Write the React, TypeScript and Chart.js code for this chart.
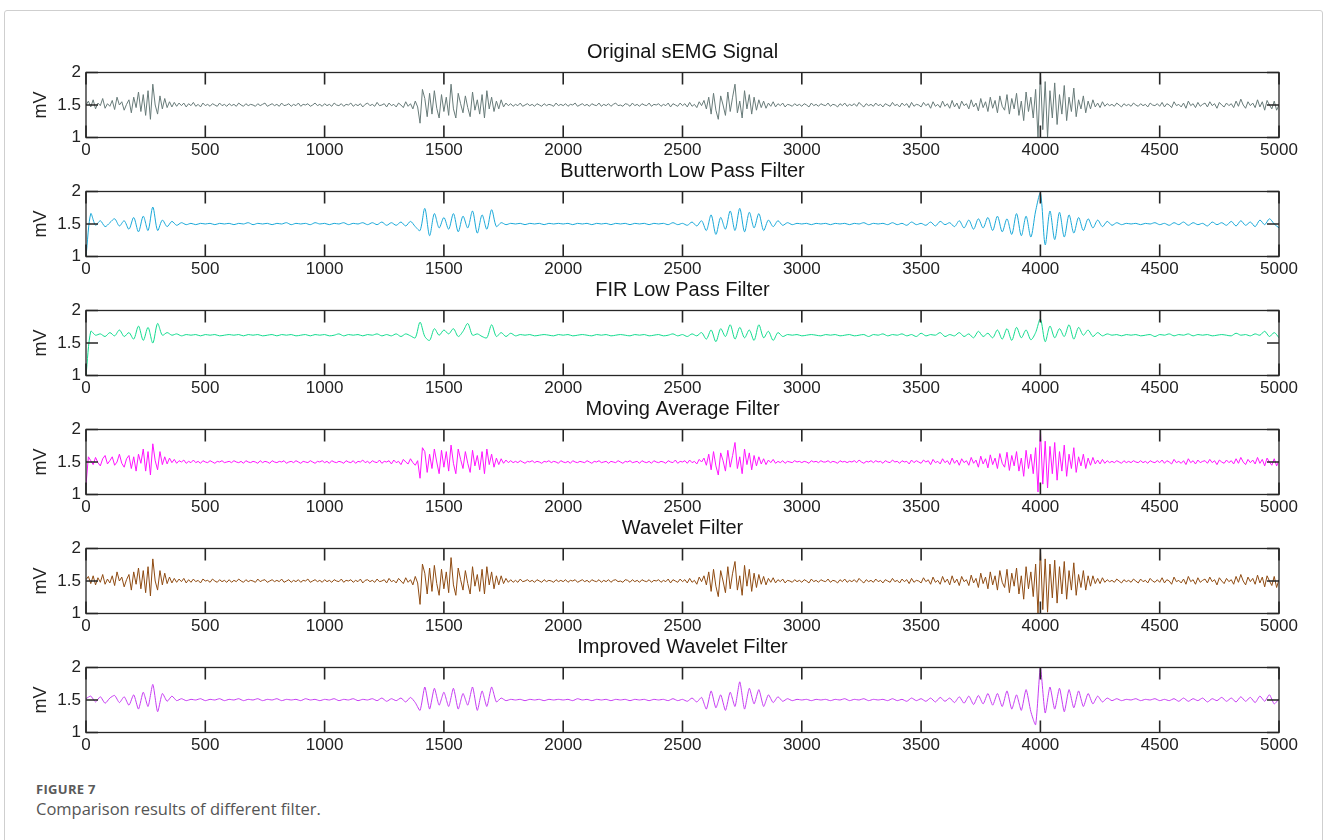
import React, { useEffect, useRef } from "react";
import { Chart, registerables } from "chart.js";

Chart.register(...registerables);

// ---------- data ----------
const X_MIN = 0;
const X_MAX = 5000;
const X_TICK_STEP = 500;
const Y_MIN = 1;
const Y_MAX = 2;
const Y_TICK_STEP = 0.5;
const Y_LABEL = "mV";

const PANEL_TITLES = [
  "Original sEMG Signal",
  "Butterworth Low Pass Filter",
  "FIR Low Pass Filter",
  "Moving Average Filter",
  "Wavelet Filter",
  "Improved Wavelet Filter",
];

// samples between stored values of each series (x = index * step)
const SERIES_SAMPLE_STEPS = [10, 20, 20, 10, 10, 20];

const LINE_COLORS = ["#687b79", "#1aa8d8", "#12db8e", "#ff14ff", "#8f4b12", "#c63cf2"];

// step 10
const ORIGINAL_SIGNAL = [
  1.50, 1.56, 1.47, 1.58, 1.44, 1.53, 1.49, 1.60, 1.45, 1.52,
  1.48, 1.57, 1.43, 1.62, 1.50, 1.55, 1.42, 1.51, 1.58, 1.38,
  1.62, 1.46, 1.70, 1.40, 1.66, 1.34, 1.72, 1.28, 1.82, 1.50,
  1.36, 1.64, 1.44, 1.60, 1.46, 1.55, 1.47, 1.54, 1.48, 1.53,
  1.49, 1.53, 1.47, 1.52, 1.49, 1.54, 1.48, 1.51, 1.47, 1.53,
  1.49, 1.51, 1.48, 1.52, 1.50, 1.48, 1.53, 1.49, 1.51, 1.48,
  1.52, 1.49, 1.51, 1.48, 1.53, 1.50, 1.48, 1.52, 1.49, 1.51,
  1.50, 1.48, 1.52, 1.49, 1.51, 1.53, 1.48, 1.50, 1.52, 1.49,
  1.51, 1.48, 1.53, 1.49, 1.50, 1.52, 1.48, 1.51, 1.49, 1.53,
  1.48, 1.51, 1.50, 1.52, 1.48, 1.50, 1.53, 1.49, 1.51, 1.48,
  1.52, 1.49, 1.51, 1.48, 1.53, 1.50, 1.49, 1.52, 1.48, 1.51,
  1.50, 1.53, 1.48, 1.51, 1.49, 1.52, 1.47, 1.51, 1.53, 1.49,
  1.51, 1.48, 1.54, 1.49, 1.50, 1.52, 1.47, 1.53, 1.49, 1.51,
  1.47, 1.53, 1.50, 1.46, 1.55, 1.48, 1.52, 1.44, 1.56, 1.47,
  1.22, 1.74, 1.60, 1.32, 1.68, 1.36, 1.72, 1.45, 1.30, 1.66,
  1.40, 1.62, 1.34, 1.82, 1.44, 1.30, 1.68, 1.52, 1.38, 1.64,
  1.46, 1.32, 1.70, 1.42, 1.58, 1.36, 1.66, 1.30, 1.72, 1.44,
  1.62, 1.40, 1.56, 1.44, 1.58, 1.47, 1.53, 1.49, 1.52, 1.48,
  1.51, 1.49, 1.53, 1.48, 1.50, 1.52, 1.49, 1.51, 1.48, 1.52,
  1.50, 1.48, 1.52, 1.49, 1.51, 1.50, 1.48, 1.53, 1.49, 1.51,
  1.49, 1.52, 1.48, 1.51, 1.50, 1.53, 1.48, 1.50, 1.52, 1.49,
  1.51, 1.48, 1.52, 1.50, 1.49, 1.53, 1.48, 1.51, 1.49, 1.52,
  1.48, 1.51, 1.53, 1.49, 1.50, 1.48, 1.52, 1.51, 1.48, 1.53,
  1.49, 1.51, 1.48, 1.52, 1.50, 1.49, 1.53, 1.48, 1.51, 1.50,
  1.52, 1.48, 1.51, 1.49, 1.53, 1.47, 1.52, 1.50, 1.48, 1.53,
  1.49, 1.52, 1.47, 1.54, 1.48, 1.51, 1.46, 1.55, 1.49, 1.57,
  1.44, 1.62, 1.36, 1.68, 1.42, 1.28, 1.64, 1.50, 1.34, 1.70,
  1.40, 1.62, 1.82, 1.38, 1.56, 1.30, 1.72, 1.44, 1.66, 1.36,
  1.62, 1.42, 1.58, 1.46, 1.56, 1.45, 1.53, 1.48, 1.55, 1.47,
  1.52, 1.49, 1.53, 1.47, 1.51, 1.50, 1.48, 1.52, 1.49, 1.51,
  1.48, 1.52, 1.50, 1.47, 1.53, 1.49, 1.51, 1.48, 1.52, 1.50,
  1.49, 1.53, 1.48, 1.51, 1.50, 1.47, 1.52, 1.49, 1.53, 1.48,
  1.51, 1.49, 1.52, 1.48, 1.54, 1.50, 1.47, 1.52, 1.49, 1.51,
  1.48, 1.53, 1.49, 1.51, 1.47, 1.52, 1.50, 1.48, 1.54, 1.49,
  1.51, 1.47, 1.53, 1.49, 1.52, 1.46, 1.54, 1.48, 1.51, 1.50,
  1.47, 1.54, 1.49, 1.52, 1.45, 1.55, 1.48, 1.51, 1.46, 1.56,
  1.48, 1.52, 1.45, 1.57, 1.47, 1.53, 1.44, 1.56, 1.49, 1.52,
  1.44, 1.58, 1.47, 1.53, 1.41, 1.60, 1.46, 1.55, 1.40, 1.62,
  1.45, 1.57, 1.38, 1.64, 1.48, 1.42, 1.66, 1.36, 1.60, 1.44,
  1.68, 1.34, 1.56, 1.26, 1.70, 1.40, 1.62, 1.30, 1.74, 1.00,
  2.00, 1.12, 1.86, 1.00, 1.72, 1.30, 1.84, 1.20, 1.66, 1.36,
  1.80, 1.26, 1.62, 1.40, 1.76, 1.32, 1.58, 1.44, 1.64, 1.38,
  1.56, 1.44, 1.58, 1.47, 1.53, 1.46, 1.55, 1.48, 1.52, 1.49,
  1.51, 1.48, 1.53, 1.50, 1.47, 1.52, 1.49, 1.51, 1.48, 1.53,
  1.50, 1.48, 1.52, 1.49, 1.51, 1.47, 1.53, 1.50, 1.49, 1.52,
  1.48, 1.54, 1.47, 1.52, 1.50, 1.46, 1.55, 1.49, 1.51, 1.47,
  1.53, 1.45, 1.56, 1.49, 1.52, 1.46, 1.54, 1.48, 1.51, 1.53,
  1.47, 1.55, 1.49, 1.52, 1.45, 1.54, 1.50, 1.47, 1.53, 1.49,
  1.52, 1.46, 1.56, 1.48, 1.59, 1.50, 1.45, 1.55, 1.49, 1.53,
  1.46, 1.58, 1.47, 1.55, 1.42, 1.57, 1.50, 1.44, 1.56, 1.42,
  1.50,
];

// step 20
const BUTTERWORTH_SIGNAL = [
  1.00, 1.66, 1.48, 1.55, 1.46, 1.52, 1.58, 1.47, 1.55, 1.42,
  1.60, 1.38, 1.62, 1.40, 1.76, 1.40, 1.56, 1.46, 1.54, 1.48,
  1.52, 1.49, 1.51, 1.49, 1.51, 1.50, 1.51, 1.49, 1.51, 1.50,
  1.51, 1.49, 1.51, 1.50, 1.52, 1.49, 1.51, 1.50, 1.51, 1.49,
  1.51, 1.50, 1.52, 1.49, 1.51, 1.50, 1.51, 1.49, 1.52, 1.50,
  1.51, 1.49, 1.51, 1.50, 1.52, 1.49, 1.51, 1.50, 1.52, 1.49,
  1.52, 1.49, 1.53, 1.48, 1.52, 1.48, 1.53, 1.47, 1.54, 1.46,
  1.40, 1.74, 1.32, 1.66, 1.44, 1.60, 1.42, 1.66, 1.38, 1.62,
  1.44, 1.70, 1.36, 1.64, 1.42, 1.72, 1.46, 1.52, 1.49, 1.51,
  1.50, 1.51, 1.49, 1.51, 1.50, 1.51, 1.49, 1.51, 1.50, 1.51,
  1.50, 1.51, 1.49, 1.51, 1.50, 1.51, 1.49, 1.51, 1.50, 1.51,
  1.49, 1.51, 1.50, 1.51, 1.49, 1.51, 1.50, 1.51, 1.49, 1.51,
  1.50, 1.51, 1.49, 1.52, 1.49, 1.51, 1.48, 1.53, 1.47, 1.55,
  1.40, 1.64, 1.34, 1.60, 1.42, 1.70, 1.40, 1.74, 1.38, 1.68,
  1.44, 1.66, 1.40, 1.56, 1.46, 1.55, 1.48, 1.52, 1.49, 1.51,
  1.50, 1.51, 1.49, 1.51, 1.50, 1.51, 1.49, 1.51, 1.50, 1.51,
  1.49, 1.51, 1.50, 1.52, 1.49, 1.51, 1.50, 1.51, 1.49, 1.52,
  1.49, 1.51, 1.48, 1.53, 1.49, 1.51, 1.48, 1.53, 1.47, 1.54,
  1.49, 1.52, 1.46, 1.55, 1.44, 1.56, 1.42, 1.58, 1.44, 1.60,
  1.40, 1.62, 1.38, 1.58, 1.34, 1.66, 1.32, 1.62, 1.30, 1.70,
  1.98, 1.18, 1.70, 1.26, 1.68, 1.30, 1.64, 1.36, 1.60, 1.40,
  1.58, 1.44, 1.56, 1.46, 1.54, 1.48, 1.52, 1.49, 1.51, 1.50,
  1.51, 1.49, 1.51, 1.50, 1.52, 1.49, 1.51, 1.48, 1.52, 1.49,
  1.53, 1.48, 1.52, 1.49, 1.51, 1.47, 1.53, 1.49, 1.52, 1.48,
  1.54, 1.47, 1.55, 1.48, 1.53, 1.46, 1.56, 1.49, 1.58, 1.50, 1.44,
];

// step 20
const FIR_SIGNAL = [
  1.00, 1.68, 1.62, 1.64, 1.60, 1.66, 1.61, 1.70, 1.60, 1.66,
  1.56, 1.76, 1.54, 1.74, 1.50, 1.80, 1.62, 1.66, 1.62, 1.64,
  1.61, 1.63, 1.62, 1.63, 1.61, 1.63, 1.62, 1.63, 1.61, 1.62,
  1.63, 1.62, 1.63, 1.61, 1.63, 1.62, 1.63, 1.61, 1.62, 1.63,
  1.61, 1.63, 1.62, 1.63, 1.61, 1.62, 1.63, 1.61, 1.63, 1.62,
  1.63, 1.61, 1.62, 1.64, 1.61, 1.63, 1.62, 1.63, 1.61, 1.63,
  1.62, 1.64, 1.61, 1.63, 1.61, 1.64, 1.60, 1.64, 1.61, 1.58,
  1.82, 1.60, 1.54, 1.72, 1.62, 1.70, 1.64, 1.72, 1.60, 1.68,
  1.80, 1.62, 1.64, 1.60, 1.58, 1.78, 1.60, 1.66, 1.60, 1.65,
  1.61, 1.63, 1.62, 1.63, 1.61, 1.62, 1.63, 1.62, 1.61, 1.63,
  1.62, 1.63, 1.61, 1.62, 1.63, 1.62, 1.61, 1.63, 1.62, 1.63,
  1.61, 1.62, 1.63, 1.62, 1.61, 1.63, 1.62, 1.63, 1.61, 1.62,
  1.63, 1.61, 1.62, 1.64, 1.61, 1.63, 1.60, 1.64, 1.61, 1.66,
  1.56, 1.70, 1.52, 1.72, 1.60, 1.78, 1.56, 1.74, 1.58, 1.70,
  1.54, 1.78, 1.58, 1.68, 1.54, 1.66, 1.60, 1.63, 1.62, 1.63,
  1.61, 1.62, 1.63, 1.62, 1.61, 1.63, 1.62, 1.63, 1.61, 1.62,
  1.63, 1.61, 1.62, 1.63, 1.60, 1.63, 1.62, 1.64, 1.61, 1.63,
  1.62, 1.64, 1.61, 1.63, 1.60, 1.65, 1.61, 1.63, 1.62, 1.66,
  1.60, 1.63, 1.61, 1.66, 1.60, 1.64, 1.58, 1.68, 1.60, 1.65,
  1.58, 1.70, 1.56, 1.72, 1.54, 1.74, 1.58, 1.70, 1.55, 1.66,
  1.87, 1.52, 1.76, 1.58, 1.72, 1.60, 1.78, 1.56, 1.74, 1.62,
  1.70, 1.60, 1.66, 1.61, 1.64, 1.62, 1.63, 1.61, 1.63, 1.62,
  1.63, 1.61, 1.62, 1.63, 1.60, 1.63, 1.62, 1.64, 1.61, 1.63,
  1.62, 1.64, 1.61, 1.63, 1.62, 1.63, 1.61, 1.62, 1.63, 1.62,
  1.61, 1.65, 1.62, 1.63, 1.61, 1.64, 1.62, 1.68, 1.60, 1.66, 1.58,
];

// step 10
const MOVING_AVERAGE_SIGNAL = [
  1.15, 1.58, 1.52, 1.46, 1.57, 1.49, 1.44, 1.55, 1.60, 1.47,
  1.52, 1.58, 1.45, 1.50, 1.62, 1.48, 1.42, 1.55, 1.60, 1.40,
  1.58, 1.36, 1.62, 1.48, 1.70, 1.36, 1.66, 1.30, 1.78, 1.52,
  1.38, 1.66, 1.46, 1.58, 1.47, 1.56, 1.49, 1.54, 1.48, 1.52,
  1.50, 1.53, 1.48, 1.51, 1.49, 1.53, 1.49, 1.51, 1.48, 1.52,
  1.50, 1.49, 1.52, 1.50, 1.48, 1.51, 1.50, 1.52, 1.49, 1.50,
  1.51, 1.49, 1.52, 1.50, 1.49, 1.51, 1.48, 1.52, 1.50, 1.49,
  1.51, 1.50, 1.48, 1.52, 1.49, 1.51, 1.50, 1.48, 1.52, 1.50,
  1.49, 1.51, 1.50, 1.52, 1.48, 1.50, 1.51, 1.49, 1.52, 1.50,
  1.48, 1.51, 1.50, 1.49, 1.52, 1.50, 1.48, 1.51, 1.50, 1.52,
  1.49, 1.51, 1.48, 1.52, 1.50, 1.49, 1.51, 1.50, 1.48, 1.52,
  1.50, 1.49, 1.52, 1.48, 1.51, 1.50, 1.53, 1.49, 1.51, 1.48,
  1.52, 1.50, 1.49, 1.53, 1.48, 1.51, 1.50, 1.52, 1.47, 1.53,
  1.49, 1.51, 1.46, 1.54, 1.50, 1.47, 1.55, 1.49, 1.45, 1.52,
  1.25, 1.72, 1.66, 1.34, 1.62, 1.40, 1.70, 1.50, 1.32, 1.68,
  1.42, 1.66, 1.36, 1.76, 1.48, 1.32, 1.70, 1.54, 1.40, 1.66,
  1.48, 1.34, 1.68, 1.44, 1.60, 1.38, 1.66, 1.32, 1.70, 1.46,
  1.62, 1.42, 1.56, 1.46, 1.55, 1.48, 1.53, 1.49, 1.52, 1.49,
  1.51, 1.49, 1.52, 1.50, 1.48, 1.51, 1.50, 1.52, 1.49, 1.51,
  1.50, 1.48, 1.51, 1.50, 1.52, 1.49, 1.51, 1.50, 1.48, 1.52,
  1.50, 1.49, 1.51, 1.48, 1.52, 1.50, 1.49, 1.51, 1.50, 1.49,
  1.52, 1.50, 1.48, 1.51, 1.50, 1.52, 1.49, 1.50, 1.51, 1.48,
  1.51, 1.50, 1.49, 1.52, 1.50, 1.48, 1.51, 1.50, 1.52, 1.49,
  1.50, 1.51, 1.48, 1.52, 1.50, 1.49, 1.51, 1.48, 1.52, 1.50,
  1.49, 1.51, 1.50, 1.48, 1.52, 1.50, 1.49, 1.53, 1.48, 1.51,
  1.50, 1.52, 1.48, 1.53, 1.49, 1.51, 1.47, 1.54, 1.50, 1.56,
  1.45, 1.62, 1.38, 1.66, 1.44, 1.30, 1.64, 1.52, 1.36, 1.68,
  1.42, 1.60, 1.80, 1.40, 1.58, 1.32, 1.70, 1.46, 1.64, 1.38,
  1.60, 1.44, 1.58, 1.47, 1.55, 1.46, 1.53, 1.49, 1.54, 1.48,
  1.51, 1.49, 1.52, 1.48, 1.51, 1.50, 1.49, 1.52, 1.50, 1.51,
  1.49, 1.51, 1.50, 1.48, 1.52, 1.50, 1.51, 1.49, 1.52, 1.50,
  1.50, 1.52, 1.49, 1.51, 1.50, 1.48, 1.52, 1.50, 1.51, 1.49,
  1.51, 1.50, 1.52, 1.49, 1.53, 1.50, 1.48, 1.51, 1.50, 1.52,
  1.49, 1.52, 1.50, 1.51, 1.48, 1.52, 1.50, 1.49, 1.53, 1.50,
  1.51, 1.48, 1.52, 1.50, 1.51, 1.47, 1.53, 1.49, 1.52, 1.50,
  1.48, 1.53, 1.50, 1.52, 1.46, 1.54, 1.49, 1.51, 1.47, 1.55,
  1.49, 1.52, 1.46, 1.56, 1.48, 1.53, 1.45, 1.55, 1.49, 1.52,
  1.45, 1.57, 1.48, 1.53, 1.42, 1.59, 1.47, 1.55, 1.41, 1.61,
  1.46, 1.56, 1.40, 1.63, 1.48, 1.42, 1.65, 1.37, 1.60, 1.44,
  1.66, 1.36, 1.56, 1.28, 1.68, 1.40, 1.62, 1.32, 1.72, 1.04,
  2.00, 1.16, 1.82, 1.10, 1.74, 1.32, 1.80, 1.22, 1.66, 1.36,
  1.76, 1.28, 1.62, 1.40, 1.72, 1.34, 1.58, 1.44, 1.62, 1.40,
  1.56, 1.45, 1.57, 1.47, 1.53, 1.47, 1.54, 1.48, 1.52, 1.49,
  1.51, 1.49, 1.52, 1.50, 1.48, 1.52, 1.49, 1.51, 1.49, 1.52,
  1.50, 1.49, 1.52, 1.49, 1.51, 1.48, 1.52, 1.50, 1.49, 1.52,
  1.49, 1.53, 1.48, 1.52, 1.50, 1.47, 1.54, 1.49, 1.51, 1.48,
  1.52, 1.46, 1.55, 1.49, 1.52, 1.47, 1.53, 1.49, 1.51, 1.52,
  1.48, 1.54, 1.49, 1.52, 1.46, 1.53, 1.50, 1.48, 1.53, 1.49,
  1.52, 1.47, 1.55, 1.48, 1.57, 1.50, 1.46, 1.54, 1.49, 1.53,
  1.47, 1.57, 1.48, 1.54, 1.44, 1.56, 1.50, 1.45, 1.55, 1.44,
  1.52,
];

// step 10
const WAVELET_SIGNAL = [
  1.52, 1.57, 1.46, 1.58, 1.44, 1.55, 1.48, 1.60, 1.45, 1.53,
  1.47, 1.58, 1.43, 1.64, 1.50, 1.56, 1.41, 1.52, 1.60, 1.36,
  1.64, 1.45, 1.70, 1.38, 1.66, 1.32, 1.72, 1.27, 1.84, 1.50,
  1.36, 1.66, 1.44, 1.62, 1.46, 1.56, 1.47, 1.54, 1.48, 1.53,
  1.49, 1.54, 1.47, 1.52, 1.48, 1.53, 1.49, 1.51, 1.47, 1.53,
  1.50, 1.51, 1.48, 1.53, 1.50, 1.48, 1.52, 1.49, 1.51, 1.48,
  1.52, 1.48, 1.51, 1.49, 1.53, 1.50, 1.48, 1.52, 1.49, 1.51,
  1.50, 1.48, 1.53, 1.49, 1.51, 1.52, 1.48, 1.50, 1.52, 1.49,
  1.51, 1.49, 1.53, 1.48, 1.50, 1.52, 1.48, 1.51, 1.49, 1.52,
  1.48, 1.51, 1.50, 1.53, 1.48, 1.50, 1.52, 1.49, 1.51, 1.48,
  1.52, 1.49, 1.51, 1.48, 1.52, 1.50, 1.49, 1.53, 1.48, 1.51,
  1.50, 1.52, 1.48, 1.51, 1.49, 1.53, 1.47, 1.51, 1.52, 1.49,
  1.51, 1.48, 1.53, 1.49, 1.50, 1.52, 1.47, 1.54, 1.49, 1.51,
  1.47, 1.54, 1.50, 1.46, 1.55, 1.48, 1.52, 1.44, 1.57, 1.47,
  1.14, 1.76, 1.62, 1.30, 1.70, 1.34, 1.74, 1.46, 1.28, 1.68,
  1.38, 1.64, 1.32, 1.86, 1.44, 1.28, 1.70, 1.52, 1.36, 1.66,
  1.46, 1.30, 1.72, 1.42, 1.60, 1.34, 1.68, 1.30, 1.72, 1.44,
  1.64, 1.38, 1.58, 1.44, 1.58, 1.46, 1.54, 1.48, 1.52, 1.48,
  1.51, 1.48, 1.53, 1.49, 1.50, 1.52, 1.49, 1.51, 1.48, 1.52,
  1.50, 1.48, 1.52, 1.49, 1.51, 1.50, 1.48, 1.52, 1.49, 1.51,
  1.49, 1.52, 1.48, 1.51, 1.50, 1.52, 1.48, 1.50, 1.52, 1.49,
  1.51, 1.48, 1.52, 1.50, 1.49, 1.52, 1.48, 1.51, 1.49, 1.52,
  1.48, 1.51, 1.52, 1.49, 1.50, 1.48, 1.52, 1.51, 1.48, 1.52,
  1.49, 1.51, 1.48, 1.52, 1.50, 1.49, 1.52, 1.48, 1.51, 1.50,
  1.52, 1.48, 1.51, 1.49, 1.53, 1.47, 1.52, 1.50, 1.48, 1.53,
  1.49, 1.52, 1.47, 1.54, 1.48, 1.51, 1.45, 1.56, 1.49, 1.58,
  1.44, 1.64, 1.34, 1.68, 1.42, 1.26, 1.66, 1.50, 1.32, 1.72,
  1.38, 1.62, 1.80, 1.36, 1.58, 1.28, 1.74, 1.42, 1.68, 1.34,
  1.62, 1.40, 1.60, 1.45, 1.57, 1.44, 1.54, 1.48, 1.55, 1.47,
  1.52, 1.49, 1.53, 1.47, 1.51, 1.50, 1.48, 1.52, 1.49, 1.51,
  1.48, 1.52, 1.50, 1.47, 1.53, 1.49, 1.51, 1.48, 1.52, 1.50,
  1.49, 1.53, 1.48, 1.51, 1.50, 1.47, 1.52, 1.49, 1.53, 1.48,
  1.51, 1.49, 1.52, 1.48, 1.54, 1.50, 1.47, 1.52, 1.49, 1.51,
  1.48, 1.53, 1.49, 1.51, 1.47, 1.52, 1.50, 1.48, 1.54, 1.49,
  1.51, 1.47, 1.53, 1.49, 1.52, 1.46, 1.54, 1.48, 1.51, 1.50,
  1.47, 1.55, 1.49, 1.52, 1.45, 1.56, 1.48, 1.51, 1.45, 1.57,
  1.48, 1.53, 1.44, 1.58, 1.47, 1.53, 1.43, 1.57, 1.49, 1.52,
  1.43, 1.59, 1.47, 1.54, 1.40, 1.62, 1.46, 1.56, 1.38, 1.64,
  1.44, 1.58, 1.36, 1.66, 1.48, 1.40, 1.68, 1.32, 1.62, 1.42,
  1.70, 1.30, 1.58, 1.22, 1.72, 1.38, 1.64, 1.26, 1.76, 1.00,
  2.00, 1.06, 1.84, 1.02, 1.76, 1.24, 1.82, 1.16, 1.72, 1.30,
  1.80, 1.22, 1.66, 1.36, 1.78, 1.28, 1.60, 1.40, 1.66, 1.36,
  1.58, 1.42, 1.58, 1.46, 1.54, 1.46, 1.55, 1.48, 1.52, 1.49,
  1.51, 1.48, 1.53, 1.50, 1.47, 1.52, 1.49, 1.51, 1.48, 1.53,
  1.50, 1.47, 1.53, 1.49, 1.51, 1.47, 1.54, 1.50, 1.48, 1.52,
  1.48, 1.55, 1.47, 1.52, 1.50, 1.45, 1.56, 1.49, 1.51, 1.47,
  1.53, 1.45, 1.57, 1.49, 1.52, 1.45, 1.55, 1.48, 1.51, 1.53,
  1.47, 1.56, 1.49, 1.52, 1.44, 1.55, 1.50, 1.46, 1.54, 1.49,
  1.52, 1.45, 1.57, 1.48, 1.60, 1.50, 1.44, 1.56, 1.49, 1.54,
  1.45, 1.59, 1.47, 1.56, 1.41, 1.58, 1.50, 1.43, 1.57, 1.40,
  1.52,
];

// step 20
const IMPROVED_WAVELET_SIGNAL = [
  1.52, 1.56, 1.47, 1.55, 1.45, 1.53, 1.57, 1.46, 1.55, 1.42,
  1.58, 1.36, 1.62, 1.40, 1.74, 1.32, 1.60, 1.48, 1.56, 1.49,
  1.52, 1.49, 1.51, 1.50, 1.52, 1.49, 1.51, 1.50, 1.52, 1.49,
  1.51, 1.50, 1.52, 1.49, 1.51, 1.50, 1.52, 1.49, 1.51, 1.50,
  1.52, 1.49, 1.51, 1.50, 1.51, 1.49, 1.52, 1.50, 1.51, 1.49,
  1.51, 1.50, 1.52, 1.49, 1.51, 1.50, 1.52, 1.49, 1.51, 1.50,
  1.52, 1.49, 1.53, 1.48, 1.52, 1.49, 1.53, 1.47, 1.54, 1.46,
  1.34, 1.70, 1.36, 1.68, 1.42, 1.62, 1.40, 1.68, 1.36, 1.60,
  1.42, 1.70, 1.34, 1.64, 1.40, 1.70, 1.47, 1.53, 1.49, 1.51,
  1.50, 1.51, 1.49, 1.51, 1.50, 1.51, 1.49, 1.51, 1.50, 1.51,
  1.50, 1.51, 1.49, 1.52, 1.50, 1.51, 1.49, 1.51, 1.50, 1.51,
  1.49, 1.51, 1.50, 1.51, 1.49, 1.51, 1.50, 1.51, 1.49, 1.51,
  1.50, 1.51, 1.49, 1.52, 1.49, 1.51, 1.48, 1.53, 1.47, 1.54,
  1.36, 1.64, 1.38, 1.58, 1.34, 1.62, 1.40, 1.78, 1.36, 1.68,
  1.44, 1.66, 1.40, 1.58, 1.46, 1.55, 1.48, 1.52, 1.49, 1.51,
  1.50, 1.51, 1.49, 1.51, 1.50, 1.51, 1.49, 1.51, 1.50, 1.52,
  1.49, 1.51, 1.50, 1.52, 1.49, 1.51, 1.50, 1.51, 1.49, 1.52,
  1.49, 1.51, 1.48, 1.53, 1.49, 1.52, 1.48, 1.53, 1.47, 1.54,
  1.48, 1.53, 1.46, 1.55, 1.45, 1.56, 1.43, 1.57, 1.44, 1.60,
  1.42, 1.60, 1.40, 1.64, 1.36, 1.58, 1.34, 1.66, 1.32, 1.12,
  2.00, 1.30, 1.70, 1.36, 1.68, 1.32, 1.66, 1.38, 1.64, 1.40,
  1.60, 1.44, 1.56, 1.47, 1.53, 1.49, 1.52, 1.49, 1.51, 1.50,
  1.52, 1.49, 1.51, 1.50, 1.52, 1.49, 1.51, 1.49, 1.52, 1.48,
  1.53, 1.48, 1.52, 1.49, 1.53, 1.47, 1.52, 1.49, 1.54, 1.48,
  1.53, 1.47, 1.55, 1.48, 1.54, 1.46, 1.56, 1.48, 1.58, 1.44, 1.52,
];

const PANEL_SERIES = [
  ORIGINAL_SIGNAL,
  BUTTERWORTH_SIGNAL,
  FIR_SIGNAL,
  MOVING_AVERAGE_SIGNAL,
  WAVELET_SIGNAL,
  IMPROVED_WAVELET_SIGNAL,
];

// smoother drawing for the smoothly filtered series
const SERIES_TENSION = [0, 0.3, 0.3, 0, 0, 0.2];

// ---------- layout ----------
const PAGE_W = 1328;
const PAGE_H = 840;
const CANVAS_H = 122;
const FIRST_CANVAS_TOP = 40;
const PANEL_PITCH = 118.9;
const PLOT_LEFT = 86;
const PLOT_RIGHT = 1279;
const TICK_LEN = 12;
const AXIS_FONT = "'Liberation Sans', Arial, Helvetica, sans-serif";

const frameAndTicks = {
  id: "frameAndTicks",
  afterDatasetsDraw(chart: any) {
    const { ctx, chartArea: a, scales } = chart;
    ctx.save();
    ctx.strokeStyle = "#262626";
    ctx.lineWidth = 1.3;
    ctx.strokeRect(a.left, a.top, a.right - a.left, a.bottom - a.top);
    ctx.beginPath();
    scales.x.ticks.forEach((t: any) => {
      const px = scales.x.getPixelForValue(t.value);
      ctx.moveTo(px, a.top);
      ctx.lineTo(px, a.top + TICK_LEN);
      ctx.moveTo(px, a.bottom);
      ctx.lineTo(px, a.bottom - TICK_LEN);
    });
    scales.y.ticks.forEach((t: any) => {
      const py = scales.y.getPixelForValue(t.value);
      ctx.moveTo(a.left, py);
      ctx.lineTo(a.left + TICK_LEN, py);
      ctx.moveTo(a.right, py);
      ctx.lineTo(a.right - TICK_LEN, py);
    });
    ctx.lineWidth = 1.6;
    ctx.stroke();
    ctx.restore();
  },
};

function SignalPanel({ index }: { index: number }) {
  const ref = useRef<HTMLCanvasElement | null>(null);

  useEffect(() => {
    const values = PANEL_SERIES[index];
    const step = SERIES_SAMPLE_STEPS[index];
    const points = values.map((v, i) => ({ x: i * step, y: v }));
    const chart = new Chart(ref.current as HTMLCanvasElement, {
      type: "line",
      data: {
        datasets: [
          {
            data: points,
            borderColor: LINE_COLORS[index],
            borderWidth: 1,
            pointRadius: 0,
            tension: SERIES_TENSION[index],
            fill: false,
          },
        ],
      },
      options: {
        animation: false,
        responsive: false,
        events: [],
        layout: {
          autoPadding: false,
          padding: { left: 0, right: PAGE_W - PLOT_RIGHT, top: 0, bottom: 0 },
        },
        plugins: {
          legend: { display: false },
          tooltip: { enabled: false },
          title: {
            display: true,
            fullSize: false,
            text: PANEL_TITLES[index],
            color: "#151515",
            font: { family: AXIS_FONT, size: 20, weight: "normal", lineHeight: 1.2 },
            padding: { top: 0, bottom: 8.5 },
          },
        },
        scales: {
          x: {
            type: "linear",
            min: X_MIN,
            max: X_MAX,
            grid: { display: false, drawTicks: false },
            border: { display: false },
            ticks: {
              stepSize: X_TICK_STEP,
              autoSkip: false,
              maxRotation: 0,
              padding: 3,
              color: "#222",
              font: { family: AXIS_FONT, size: 17 },
              callback: (v: any) => String(v),
            },
            afterFit: (s: any) => {
              s.height = 24.5;
            },
          },
          y: {
            type: "linear",
            min: Y_MIN,
            max: Y_MAX,
            grid: { display: false, drawTicks: false },
            border: { display: false },
            ticks: {
              stepSize: Y_TICK_STEP,
              padding: 5,
              color: "#222",
              font: { family: AXIS_FONT, size: 17 },
              callback: (v: any) => String(v),
            },
            title: {
              display: true,
              text: Y_LABEL,
              color: "#222",
              font: { family: AXIS_FONT, size: 18 },
              padding: { top: 30, bottom: 0 },
            },
            afterFit: (s: any) => {
              s.width = PLOT_LEFT;
            },
          },
        },
      },
      plugins: [frameAndTicks],
    } as any);
    return () => chart.destroy();
  }, [index]);

  const top = Math.round(FIRST_CANVAS_TOP + PANEL_PITCH * index);
  return (
    <canvas
      ref={ref}
      width={PAGE_W}
      height={CANVAS_H}
      style={{ position: "absolute", left: 0, top, width: PAGE_W, height: CANVAS_H }}
    />
  );
}

export default function App() {
  return (
    <div
      style={{
        position: "absolute",
        left: 0,
        top: 0,
        width: PAGE_W,
        height: PAGE_H,
        overflow: "hidden",
        background: "#fff",
      }}
    >
      <div
        style={{
          position: "absolute",
          left: 4,
          top: 10,
          width: 1319,
          height: 900,
          border: "1px solid #cfcfcf",
          borderRadius: 3,
          boxSizing: "border-box",
        }}
      />
      {PANEL_TITLES.map((_, i) => (
        <SignalPanel key={i} index={i} />
      ))}
      <div
        style={{
          position: "absolute",
          left: 36,
          top: 781,
          fontFamily: "'Open Sans', 'Noto Sans', sans-serif",
          fontWeight: 700,
          fontSize: 13,
          lineHeight: "17px",
          color: "#5a5a5a",
          letterSpacing: 0.3,
        }}
      >
        FIGURE 7
      </div>
      <div
        style={{
          position: "absolute",
          left: 36,
          top: 798,
          fontFamily: "'Open Sans', 'Noto Sans', sans-serif",
          fontSize: 16.5,
          lineHeight: "22px",
          color: "#555",
        }}
      >
        Comparison results of different filter.
      </div>
    </div>
  );
}
